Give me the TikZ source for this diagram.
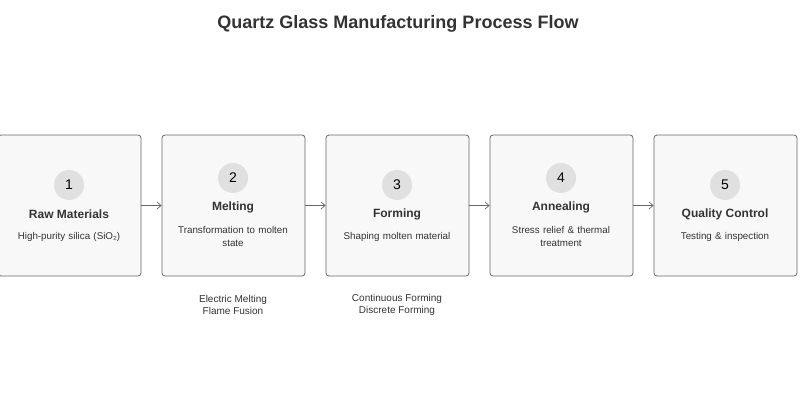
\documentclass[tikz,border=0pt]{standalone}
\usepackage{fontspec}
\setmainfont{Liberation Sans}
\usetikzlibrary{arrows.meta}
\definecolor{bx}{HTML}{F8F8F8}
\definecolor{ln}{HTML}{666666}
\definecolor{cf}{HTML}{E0E0E0}
\definecolor{tx}{HTML}{333333}
\begin{document}
\begin{tikzpicture}[x=1pt,y=-1pt,
 box/.style={draw=ln,fill=bx,rounded corners=3pt,minimum width=143pt,minimum height=141pt,line width=0.8pt},
 num/.style={circle,fill=cf,minimum size=30pt,inner sep=0pt,font=\fontsize{14}{16}\selectfont,text=black},
 ttl/.style={font=\bfseries\fontsize{12}{14}\selectfont,text=tx},
 dsc/.style={font=\fontsize{9.8}{13}\selectfont,text=tx,align=center,text width=140pt},
 sub/.style={font=\fontsize{10}{11.5}\selectfont,text=tx,align=center},
 arr/.style={draw=ln,-{Straight Barb[length=4pt,width=7pt]},line width=0.7pt}]
\useasboundingbox (0,0) rectangle (800,400);
\node[font=\bfseries\fontsize{18}{21}\selectfont,text=tx] (title) at (398,24) {Quartz Glass Manufacturing Process Flow};
\node[box] (b1) at (69.5,205.5) {};
\node[box] (b2) at (233.5,205.5) {};
\node[box] (b3) at (397.5,205.5) {};
\node[box] (b4) at (561.5,205.5) {};
\node[box] (b5) at (725.5,205.5) {};
\node[num] (n1) at (69,185) {1};
\node[ttl] (t1) at (69,214) {Raw Materials};
\node[dsc] (d1) at (69,237) {High-purity silica (SiO₂)};
\node[num] (n2) at (233,178) {2};
\node[ttl] (t2) at (233,207) {Melting};
\node[dsc] (d2) at (233,236) {Transformation to molten\\state};
\node[num] (n3) at (397,185) {3};
\node[ttl] (t3) at (397,214) {Forming};
\node[dsc] (d3) at (397,237) {Shaping molten material};
\node[num] (n4) at (561,178) {4};
\node[ttl] (t4) at (561,207) {Annealing};
\node[dsc] (d4) at (561,236) {Stress relief \& thermal\\treatment};
\node[num] (n5) at (725,185) {5};
\node[ttl] (t5) at (725,214) {Quality Control};
\node[dsc] (d5) at (725,237) {Testing \& inspection};
\node[sub] (s2) at (233,305) {Electric Melting\\Flame Fusion};
\node[sub] (s3) at (397,305) {Continuous Forming\\Discrete Forming};
\draw[arr] (b1) -- (b2);
\draw[arr] (b2) -- (b3);
\draw[arr] (b3) -- (b4);
\draw[arr] (b4) -- (b5);
\end{tikzpicture}
\end{document}
